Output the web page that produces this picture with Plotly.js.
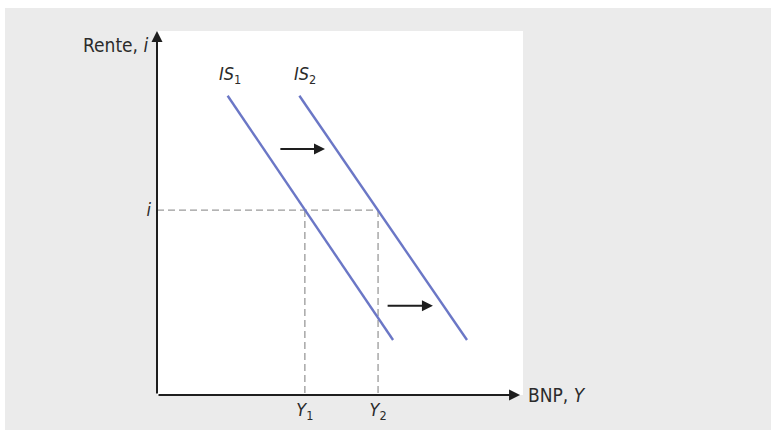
<!DOCTYPE html>
<html>
<head>
<meta charset="utf-8">
<script src="https://cdn.plot.ly/plotly-3.0.1.min.js"></script>
<style>
  html, body { margin: 0; padding: 0; background: #ffffff; }
  #chart { width: 771px; height: 430px; }
  #chart text { font-stretch: condensed !important; }
</style>
</head>
<body>
<div id="chart"></div>
<script>
// IS curves: endpoints in (output Y, interest rate i) units
const is1X = [1.93, 6.45];
const is1Y = [8.22, 1.51];
const is2X = [3.89, 8.47];
const is2Y = [8.22, 1.51];

// Equilibrium interest rate and output levels
const rateLevel = [5.08];
const outputLevels = [4.04, 6.04];
const outputTickText = ['<i>Y</i><sub>1</sub>', '<i>Y</i><sub>2</sub>'];
const rateTickText = ['<i>i</i>'];

// Shift arrows (start x, end x, height)
const shiftFromX = [3.33, 6.26];
const shiftToX = [4.59, 7.54];
const shiftY = [6.76, 2.45];

// Curve labels
const curveNames = ['<i>IS</i><sub>1</sub>', '<i>IS</i><sub>2</sub>'];
const curveLabelX = [2.0, 4.05];
const curveLabelY = [8.79, 8.79];

const FONT = '"DejaVu Sans Condensed", "DejaVu Sans", sans-serif';
const TEXT = '#2b2b2b';
const LINE = '#6b77c6';
const DASH = '#9a9a9a';

const traces = [
  // horizontal guide at the interest rate up to IS2
  {x: [0, outputLevels[1]], y: [rateLevel[0], rateLevel[0]], mode: 'lines',
   line: {color: DASH, width: 1.3, dash: '7px,4px'}, hoverinfo: 'skip'},
  // vertical guides down to the output axis
  {x: [outputLevels[0], outputLevels[0]], y: [rateLevel[0], 0], mode: 'lines',
   line: {color: DASH, width: 1.3, dash: '7px,4px'}, hoverinfo: 'skip'},
  {x: [outputLevels[1], outputLevels[1]], y: [rateLevel[0], 0], mode: 'lines',
   line: {color: DASH, width: 1.3, dash: '7px,4px'}, hoverinfo: 'skip'},
  // IS curves
  {x: is1X, y: is1Y, mode: 'lines', line: {color: LINE, width: 2.4}, name: 'IS1'},
  {x: is2X, y: is2Y, mode: 'lines', line: {color: LINE, width: 2.4}, name: 'IS2'}
];

function arrow(x, y, ax, ay, w, size) {
  return {x: x, y: y, ax: ax, ay: ay, xref: 'x', yref: 'y', axref: 'x', ayref: 'y',
          text: '', showarrow: true, arrowhead: 2, arrowsize: size, arrowwidth: w,
          arrowcolor: '#1e1e1e', standoff: 0, startstandoff: 0};
}

const annotations = [
  // axes with arrow tips
  arrow(0, 10, 0, 0, 2, 1.1),
  arrow(9.92, 0, 0, 0, 2, 1.1),
  // shift arrows
  arrow(shiftToX[0], shiftY[0], shiftFromX[0], shiftY[0], 2, 1.1),
  arrow(shiftToX[1], shiftY[1], shiftFromX[1], shiftY[1], 2, 1.1),
  // axis titles
  {x: -0.019, y: 0.962, xref: 'paper', yref: 'paper', text: 'Rente, <i>i</i>', showarrow: false,
   xanchor: 'right', yanchor: 'middle', font: {family: FONT, size: 19, color: TEXT}},
  {x: 1.0, y: 0, xref: 'paper', yref: 'paper', text: 'BNP, <i>Y</i>', showarrow: false,
   xanchor: 'left', yanchor: 'middle', xshift: 3, font: {family: FONT, size: 19, color: TEXT}}
];
curveNames.forEach(function (t, k) {
  annotations.push({x: curveLabelX[k], y: curveLabelY[k], xref: 'x', yref: 'y', text: t,
    showarrow: false, xanchor: 'center', yanchor: 'middle',
    font: {family: FONT, size: 18, color: TEXT}});
});

const layout = {
  width: 771, height: 430,
  margin: {l: 157, r: 248, t: 31, b: 35, pad: 0},
  paper_bgcolor: '#ebebeb',
  plot_bgcolor: '#ffffff',
  showlegend: false,
  font: {family: FONT, color: TEXT},
  xaxis: {range: [0, 10], showgrid: false, zeroline: false, showline: false,
          tickmode: 'array', tickvals: outputLevels, ticktext: outputTickText,
          ticks: '', ticklabelstandoff: 2, tickfont: {family: FONT, size: 18, color: TEXT},
          fixedrange: true},
  yaxis: {range: [0, 10], showgrid: false, zeroline: false, showline: false,
          tickmode: 'array', tickvals: rateLevel, ticktext: rateTickText,
          ticks: '', ticklabelstandoff: 5, tickfont: {family: FONT, size: 18, color: TEXT},
          fixedrange: true},
  shapes: [
    // white border strips around the grey panel
    {type: 'rect', xref: 'paper', yref: 'paper', x0: -0.43, x1: 1.69, y0: 1.063, y1: 1.09,
     fillcolor: '#ffffff', line: {width: 0}, layer: 'below'},
    {type: 'rect', xref: 'paper', yref: 'paper', x0: -0.43, x1: -0.4153, y0: -0.1, y1: 1.09,
     fillcolor: '#ffffff', line: {width: 0}, layer: 'below'}
  ],
  annotations: annotations
};

Plotly.newPlot('chart', traces, layout, {displayModeBar: false, staticPlot: true});
</script>
</body>
</html>
